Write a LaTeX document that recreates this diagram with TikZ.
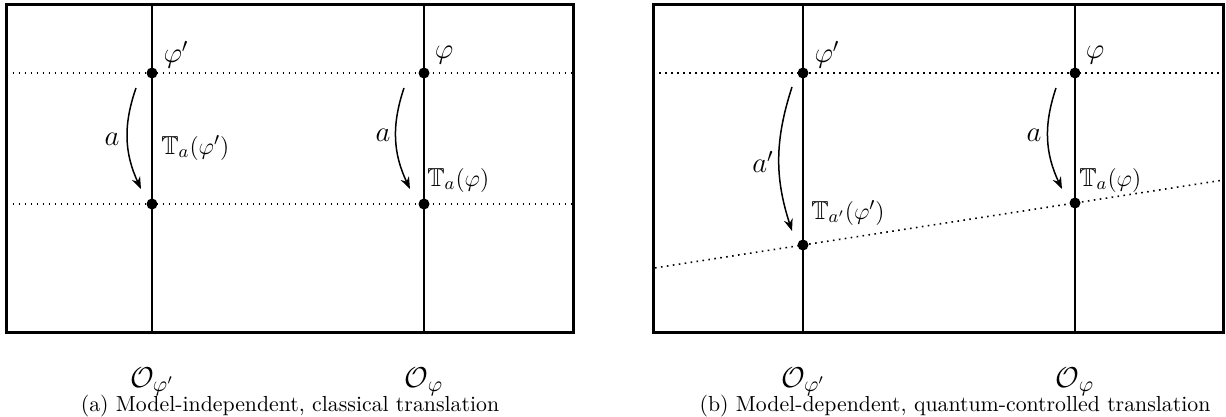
\documentclass[tikz,border=0pt]{standalone}
\usepackage{amssymb}
\usetikzlibrary{arrows.meta}
\tikzset{
  frame/.style={line width=1.5pt},
  axis/.style={line width=0.9pt},
  dotline/.style={line width=0.8pt, dash pattern=on 0.8pt off 2.2pt},
  dot/.style={circle, fill=black, inner sep=0pt, minimum size=5.5pt},
  arr/.style={line width=0.75pt, -{Stealth[length=6pt,width=4.5pt]}},
  lab/.style={inner sep=0pt, font=\fontsize{14}{16}\selectfont},
  tlab/.style={inner sep=0pt, anchor=west, font=\fontsize{13}{15}\selectfont},
  olab/.style={inner sep=0pt, font=\fontsize{15}{17}\selectfont},
  captext/.style={inner sep=0pt, font=\fontsize{10.9}{13}\selectfont}
}
\begin{document}
\begin{tikzpicture}[x=0.5pt,y=-0.5pt]
\useasboundingbox (0,0) rectangle (1226,417);
% ---------- panel (a) ----------
\coordinate (aTL) at (6.5,5);
\coordinate (aBR) at (573,332);
\draw[frame] (aTL) rectangle (aBR);
\coordinate (a1t) at (152,5);  \coordinate (a1b) at (152,332);
\coordinate (a2t) at (424,5);  \coordinate (a2b) at (424,332);
\draw[axis] (a1t) -- (a1b);
\draw[axis] (a2t) -- (a2b);
\coordinate (aL1) at (6.5,73);  \coordinate (aR1) at (573,73);
\coordinate (aL2) at (6.5,204); \coordinate (aR2) at (573,204);
\draw[dotline] (aL1) -- (aR1);
\draw[dotline] (aL2) -- (aR2);
\node[dot] (ap1) at (152,73) {};
\node[dot] (ap2) at (152,204) {};
\node[dot] (aq1) at (424,73) {};
\node[dot] (aq2) at (424,204) {};
\coordinate (aA1s) at (136,88);  \coordinate (aA1e) at (141,189);
\coordinate (aA2s) at (404,88);  \coordinate (aA2e) at (410,189);
\draw[arr] (aA1s) to[bend right=22] (aA1e);
\draw[arr] (aA2s) to[bend right=22] (aA2e);
\node[lab] (aphip) at (176,55) {$\varphi'$};
\node[lab] (aphi) at (444,55) {$\varphi$};
\node[lab] (aa1) at (112,139) {$a$};
\node[lab] (aa2) at (383,135) {$a$};
\node[tlab] (aT1) at (161,148) {$\mathbb{T}_a(\varphi')$};
\node[tlab] (aT2) at (427,180) {$\mathbb{T}_a(\varphi)$};
\node[olab, anchor=base] (aO1) at (152,387) {$\mathcal{O}_{\varphi'}$};
\node[olab, anchor=base] (aO2) at (424,387) {$\mathcal{O}_{\varphi}$};
\node[captext, anchor=base] (capa) at (290,411) {(a) Model-independent, classical translation};
% ---------- panel (b) ----------
\coordinate (bTL) at (653,5);
\coordinate (bBR) at (1223,332);
\draw[frame] (bTL) rectangle (bBR);
\coordinate (b1t) at (803,5);  \coordinate (b1b) at (803,332);
\coordinate (b2t) at (1075,5); \coordinate (b2b) at (1075,332);
\draw[axis] (b1t) -- (b1b);
\draw[axis] (b2t) -- (b2b);
\coordinate (bL1) at (653,73);  \coordinate (bR1) at (1223,73);
\coordinate (bL2) at (655,267.9); \coordinate (bR2) at (1223,180.1);
\draw[dotline] (bL1) -- (bR1);
\draw[dotline] (bL2) -- (bR2);
\node[dot] (bp1) at (803,73) {};
\node[dot] (bp2) at (803,245) {};
\node[dot] (bq1) at (1075,73) {};
\node[dot] (bq2) at (1075,203) {};
\coordinate (bA1s) at (792,87);  \coordinate (bA1e) at (792,231);
\coordinate (bA2s) at (1056,88); \coordinate (bA2e) at (1062,189);
\draw[arr] (bA1s) to[bend right=18] (bA1e);
\draw[arr] (bA2s) to[bend right=22] (bA2e);
\node[lab] (bphip) at (827,55) {$\varphi'$};
\node[lab] (bphi) at (1095,55) {$\varphi$};
\node[lab] (ba1) at (763,162) {$a'$};
\node[lab] (ba2) at (1034,135) {$a$};
\node[tlab] (bT1) at (811,213) {$\mathbb{T}_{a'}(\varphi')$};
\node[tlab] (bT2) at (1079,180) {$\mathbb{T}_a(\varphi)$};
\node[olab, anchor=base] (bO1) at (803,387) {$\mathcal{O}_{\varphi'}$};
\node[olab, anchor=base] (bO2) at (1075,387) {$\mathcal{O}_{\varphi}$};
\node[captext, anchor=base] (capb) at (955,411) {(b) Model-dependent, quantum-controlled translation};
\end{tikzpicture}
\end{document}
